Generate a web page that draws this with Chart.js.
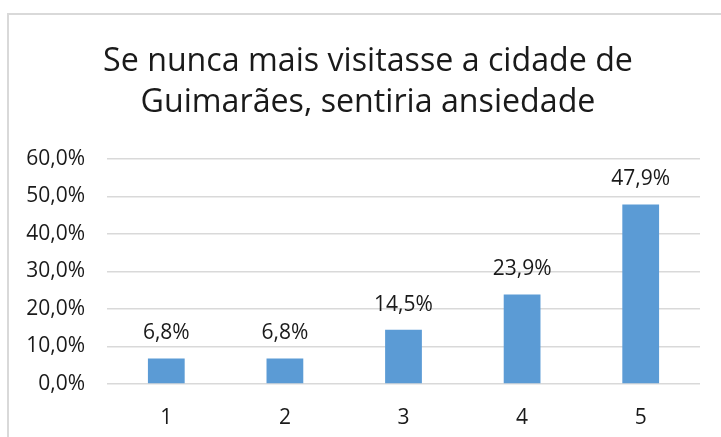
<!DOCTYPE html>
<html>
<head>
<meta charset="utf-8">
<script src="https://cdn.jsdelivr.net/npm/chart.js@4"></script>
<style>
  html, body { margin: 0; padding: 0; background: #fff; overflow: hidden; }
  #wrap { position: relative; width: 721px; height: 437px; }
  #frame {
    position: absolute; left: 7px; top: 13px; width: 800px; height: 500px;
    border-top: 2px solid #d9d9d9; border-left: 2px solid #d9d9d9;
  }
  canvas { position: absolute; left: 0; top: 0; }
</style>
</head>
<body>
<div id="wrap">
  <div id="frame"></div>
  <canvas id="chart" width="721" height="437"></canvas>
</div>
<script>
// Chart data
const categories = ['1', '2', '3', '4', '5'];
const percentages = [6.8, 6.8, 14.5, 23.9, 47.9];
const titleLines = ['Se nunca mais visitasse a cidade de', 'Guimarães, sentiria ansiedade'];
const yTicks = [0, 10, 20, 30, 40, 50, 60];

const textColor = '#1a1a1a';
const fontFamily = '"Open Sans", sans-serif';

// format 12.3 -> "12,3%"
function fmtPct(v) {
  return v.toFixed(1).replace('.', ',') + '%';
}

// Title drawn by hand: the original centres it off the plot centre
const chartTitle = {
  id: 'chartTitle',
  afterDraw(chart) {
    const ctx = chart.ctx;
    ctx.save();
    ctx.font = '32.2px ' + fontFamily;
    ctx.fillStyle = textColor;
    ctx.textAlign = 'center';
    ctx.textBaseline = 'middle';
    titleLines.forEach((line, i) => {
      ctx.fillText(line, 368, 62 + i * 41);
    });
    ctx.restore();
  }
};

// Draw value labels above each bar
const barLabels = {
  id: 'barLabels',
  afterDatasetsDraw(chart) {
    const ctx = chart.ctx;
    const meta = chart.getDatasetMeta(0);
    ctx.save();
    ctx.font = '21px ' + fontFamily;
    ctx.fillStyle = textColor;
    ctx.textAlign = 'center';
    ctx.textBaseline = 'middle';
    meta.data.forEach((bar, i) => {
      ctx.fillText(fmtPct(percentages[i]), bar.x, bar.y - 25);
    });
    ctx.restore();
  }
};

new Chart(document.getElementById('chart'), {
  type: 'bar',
  data: {
    labels: categories,
    datasets: [{
      data: percentages,
      backgroundColor: '#5b9bd5',
      borderWidth: 0,
      categoryPercentage: 1,
      barPercentage: 0.31
    }]
  },
  options: {
    responsive: false,
    animation: false,
    layout: {
      padding: { top: 159, right: 21, bottom: 8, left: 0 }
    },
    plugins: {
      legend: { display: false },
      tooltip: { enabled: false },
      title: { display: false }
    },
    scales: {
      x: {
        afterFit(scale) {
          scale.height = 45;
        },
        grid: { display: false, drawTicks: false },
        border: { display: false },
        ticks: {
          color: textColor,
          padding: 21,
          font: { family: fontFamily, size: 21 }
        }
      },
      y: {
        min: yTicks[0],
        max: yTicks[yTicks.length - 1],
        afterBuildTicks(scale) {
          scale.ticks = yTicks.map(v => ({ value: v }));
        },
        afterFit(scale) {
          scale.width = 107;
        },
        grid: { color: '#d9d9d9', lineWidth: 1.5, drawTicks: false },
        border: { display: false },
        ticks: {
          color: textColor,
          padding: 22,
          font: { family: fontFamily, size: 21 },
          callback: v => fmtPct(v)
        }
      }
    }
  },
  plugins: [chartTitle, barLabels]
});
</script>
</body>
</html>
